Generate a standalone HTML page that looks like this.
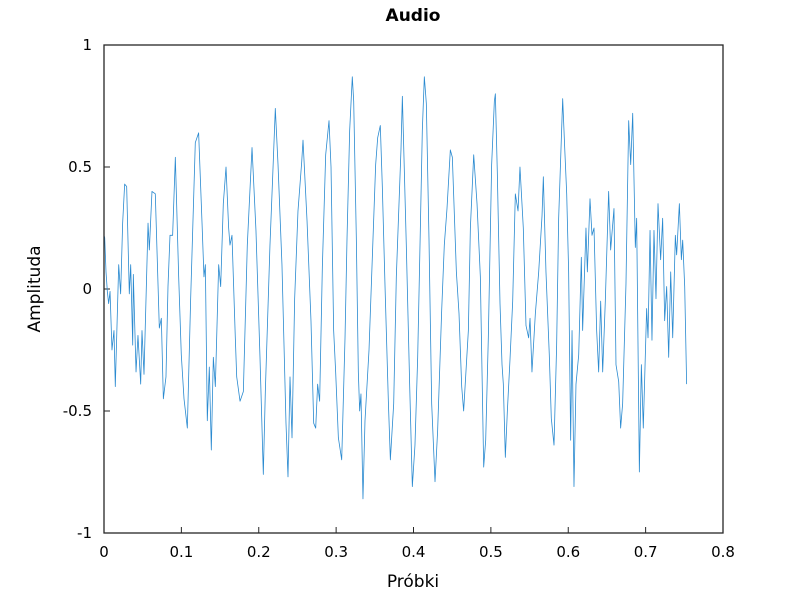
<!DOCTYPE html>
<html><head><meta charset="utf-8"><style>
html,body{margin:0;padding:0;background:#fff;}
svg{display:block;font-family:"DejaVu Sans","Liberation Sans",sans-serif;}
</style></head><body>
<svg id="chart" width="800" height="600" viewBox="0 0 800 600">
<rect x="0" y="0" width="800" height="600" fill="#fff"/>
<text x="413" y="21" text-anchor="middle" font-size="17" font-weight="bold" fill="#000">Audio</text>
<g id="ticks"></g>
<path id="wave" fill="none" stroke="#2a8ad0" stroke-width="0.8" stroke-linejoin="round"/>
<rect x="104" y="45" width="619" height="488" fill="none" stroke="#262626" stroke-width="1.3"/>
<text x="413" y="587" text-anchor="middle" font-size="17" fill="#000">Próbki</text>
<text transform="translate(40,289) rotate(-90)" text-anchor="middle" font-size="17" fill="#000">Amplituda</text>
</svg>
<script>
const xTicks = [0, 0.1, 0.2, 0.3, 0.4, 0.5, 0.6, 0.7, 0.8];
const xTickLabels = ["0", "0.1", "0.2", "0.3", "0.4", "0.5", "0.6", "0.7", "0.8"];
const yTicks = [-1, -0.5, 0, 0.5, 1];
const yTickLabels = ["-1", "-0.5", "0", "0.5", "1"];
const times = [0,0.0009,0.0026,0.0043,0.006,0.0078,0.0103,0.0129,0.0146,0.019,0.0215,0.0241,0.0267,0.0293,0.0327,0.0345,0.0371,0.0379,0.0414,0.0439,0.0474,0.0491,0.0517,0.0569,0.0586,0.062,0.0663,0.0715,0.0741,0.0767,0.0801,0.0827,0.0853,0.0887,0.0922,0.0965,0.0999,0.1034,0.1077,0.112,0.118,0.1223,0.1267,0.1292,0.131,0.1335,0.1361,0.1387,0.1413,0.1439,0.1482,0.1508,0.1542,0.1577,0.1611,0.1628,0.1654,0.1697,0.1715,0.1758,0.1801,0.1852,0.1913,0.1964,0.2016,0.2059,0.2085,0.2145,0.218,0.2214,0.2249,0.23,0.2352,0.2378,0.2404,0.243,0.2464,0.2507,0.2555,0.2572,0.2624,0.2675,0.271,0.2736,0.2761,0.2787,0.2822,0.2865,0.2908,0.2934,0.2968,0.2994,0.3029,0.3072,0.3115,0.3141,0.3175,0.3209,0.3227,0.3261,0.3287,0.3304,0.3321,0.3347,0.3373,0.3425,0.3477,0.3511,0.3537,0.3571,0.3597,0.3632,0.3675,0.3701,0.3744,0.3778,0.3838,0.3856,0.3907,0.3951,0.3985,0.4019,0.4054,0.4088,0.4114,0.414,0.4166,0.42,0.4235,0.4278,0.4312,0.4364,0.4398,0.4433,0.4476,0.4502,0.4554,0.4588,0.4623,0.4648,0.4674,0.4709,0.4735,0.4778,0.4821,0.4864,0.4907,0.4933,0.4967,0.501,0.5045,0.5058,0.5083,0.5118,0.5144,0.5161,0.5187,0.5213,0.5247,0.5282,0.5316,0.5351,0.5376,0.5419,0.5454,0.5488,0.5506,0.5531,0.5575,0.5618,0.5661,0.5678,0.5712,0.5755,0.5781,0.5816,0.585,0.5876,0.5928,0.5954,0.598,0.6005,0.6031,0.6049,0.6074,0.61,0.6135,0.6169,0.6186,0.6229,0.6247,0.6281,0.6307,0.6333,0.6367,0.6393,0.6419,0.6445,0.6479,0.6522,0.6548,0.6591,0.6617,0.6652,0.6677,0.6703,0.6746,0.6781,0.6807,0.6833,0.6867,0.6884,0.6919,0.6945,0.697,0.7013,0.7031,0.7057,0.7082,0.7108,0.7134,0.716,0.7194,0.722,0.7246,0.7272,0.7298,0.7324,0.735,0.7384,0.7401,0.7436,0.7462,0.7479,0.7505,0.753];
const amplitudes = [0.22,0.21,0.07,-0.01,-0.06,-0.01,-0.25,-0.17,-0.40,0.10,-0.02,0.27,0.43,0.42,-0.02,0.10,-0.23,0.06,-0.34,-0.19,-0.39,-0.17,-0.35,0.27,0.16,0.40,0.39,-0.16,-0.12,-0.45,-0.36,0.01,0.22,0.22,0.54,0.05,-0.27,-0.45,-0.57,-0.04,0.60,0.64,0.27,0.05,0.10,-0.54,-0.32,-0.66,-0.28,-0.40,0.10,0.01,0.35,0.50,0.25,0.18,0.22,-0.20,-0.36,-0.46,-0.42,0.18,0.58,0.24,-0.28,-0.76,-0.42,0.18,0.46,0.74,0.51,0.10,-0.55,-0.77,-0.36,-0.61,-0.04,0.32,0.52,0.61,0.28,-0.13,-0.55,-0.57,-0.39,-0.46,0.09,0.55,0.69,0.50,-0.17,-0.34,-0.61,-0.70,-0.20,0.21,0.65,0.87,0.77,0.21,-0.34,-0.50,-0.43,-0.86,-0.54,-0.25,0.21,0.51,0.62,0.67,0.42,0.01,-0.46,-0.70,-0.47,0.05,0.57,0.79,0.18,-0.40,-0.81,-0.64,-0.28,0.24,0.65,0.87,0.76,0.21,-0.47,-0.79,-0.58,-0.09,0.18,0.33,0.57,0.54,0.07,-0.10,-0.40,-0.50,-0.36,-0.17,0.25,0.55,0.35,0.05,-0.73,-0.62,-0.20,0.51,0.77,0.80,0.48,-0.06,-0.31,-0.39,-0.69,-0.50,-0.29,-0.05,0.39,0.32,0.50,0.25,-0.15,-0.20,-0.12,-0.34,-0.10,0.07,0.30,0.46,0.07,-0.27,-0.53,-0.64,-0.23,0.29,0.78,0.58,0.39,0.07,-0.62,-0.17,-0.81,-0.39,-0.27,0.13,-0.17,0.25,0.07,0.37,0.22,0.25,-0.17,-0.34,-0.05,-0.34,-0.05,0.40,0.16,0.33,-0.31,-0.38,-0.57,-0.47,0.02,0.69,0.51,0.72,0.17,0.29,-0.75,-0.31,-0.57,-0.08,-0.20,0.24,-0.21,0.24,-0.04,0.35,0.12,0.29,-0.13,0.01,-0.28,0.07,-0.20,0.22,0.14,0.35,0.12,0.20,0.01,-0.39];

const NS = "http://www.w3.org/2000/svg";
const X0 = 104, X1 = 723, Y0 = 533, Y1 = 45;
function xScale(v){ return X0 + (v - 0) / 0.8 * (X1 - X0); }
function yScale(v){ return Y0 - (v + 1) / 2 * (Y0 - Y1); }

const tg = document.getElementById('ticks');
xTicks.forEach((t, i) => {
  const x = xScale(t);
  const ln = document.createElementNS(NS, 'line');
  ln.setAttribute('x1', x); ln.setAttribute('x2', x);
  ln.setAttribute('y1', Y0); ln.setAttribute('y2', Y0 - 6);
  ln.setAttribute('stroke', '#262626');
  
  
  tg.appendChild(ln);
  const tx = document.createElementNS(NS, 'text');
  tx.setAttribute('x', x); tx.setAttribute('y', 557);
  tx.setAttribute('text-anchor', 'middle');
  tx.setAttribute('font-size', '15');
  tx.textContent = xTickLabels[i];
  
  
  tg.appendChild(tx);
});
yTicks.forEach((t, i) => {
  const y = yScale(t);
  const ln = document.createElementNS(NS, 'line');
  ln.setAttribute('x1', X0); ln.setAttribute('x2', X0 + 6);
  ln.setAttribute('y1', y); ln.setAttribute('y2', y);
  ln.setAttribute('stroke', '#262626');
  
  
  tg.appendChild(ln);
  const tx = document.createElementNS(NS, 'text');
  tx.setAttribute('x', 92); tx.setAttribute('y', y + 5);
  tx.setAttribute('text-anchor', 'end');
  tx.setAttribute('font-size', '15');
  tx.textContent = yTickLabels[i];
  
  
  tg.appendChild(tx);
});

let d = '';
times.forEach((t, i) => {
  d += (i ? 'L' : 'M') + xScale(t).toFixed(2) + ',' + yScale(amplitudes[i]).toFixed(2);
});
document.getElementById('wave').setAttribute('d', d);
</script>
</body></html>
